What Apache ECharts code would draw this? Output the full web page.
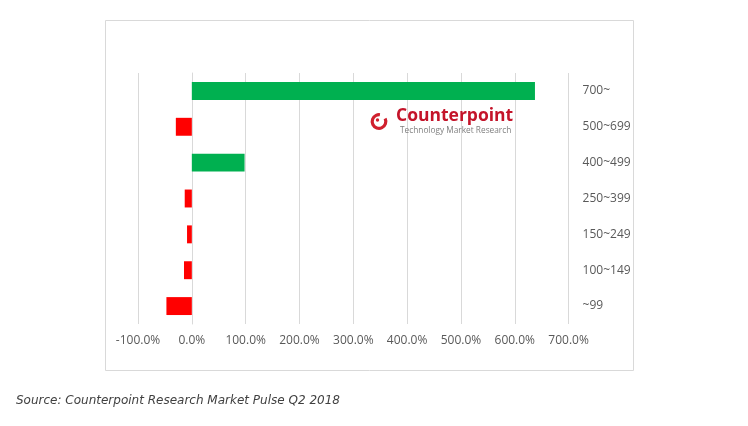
<!DOCTYPE html>
<html>
<head>
<meta charset="utf-8">
<script src="https://cdn.jsdelivr.net/npm/echarts@6/dist/echarts.min.js"></script>
<style>
html,body{margin:0;padding:0;background:#fff;}
#chart{width:748px;height:426px;}
</style>
</head>
<body>
<div id="chart"></div>
<script>
// Data
var categories = ['700~', '500~699', '400~499', '250~399', '150~249', '100~149', '~99'];
var growth = [637.5, -29.7, 98, -13.2, -8.9, -14.5, -47.2];
var xTicks = { min: -100, max: 700, step: 100 };
var sourceNote = 'Source: Counterpoint Research Market Pulse Q2 2018';

var chart = echarts.init(document.getElementById('chart'));
var labelFont = '"Open Sans", "Noto Sans", sans-serif';

chart.setOption({
  animation: false,
  backgroundColor: '#ffffff',
  grid: { left: 138, right: 179.4, top: 73, height: 251, containLabel: false },
  xAxis: {
    type: 'value',
    min: xTicks.min, max: xTicks.max, interval: xTicks.step,
    axisLine: { show: false },
    axisTick: { show: false },
    splitLine: { show: true, lineStyle: { color: '#d9d9d9', width: 1 } },
    axisLabel: {
      color: '#595959', fontSize: 12, fontFamily: labelFont, margin: 11,
      formatter: function (v) { return v.toFixed(1) + '%'; }
    }
  },
  yAxis: {
    type: 'category',
    data: categories,
    position: 'right',
    inverse: true,
    axisLine: { show: true, lineStyle: { color: '#d9d9d9' } },
    axisTick: { show: false },
    splitLine: { show: false },
    axisLabel: { color: '#595959', fontSize: 12, fontFamily: labelFont, margin: 14, align: 'left' }
  },
  series: [{
    type: 'bar',
    data: growth,
    barCategoryGap: '50%',
    itemStyle: {
      color: function (p) { return p.value >= 0 ? '#00B050' : '#FF0000'; }
    }
  }],
  graphic: [
    {
      type: 'rect', silent: true, z: -1,
      shape: { x: 105.5, y: 20.5, width: 528, height: 350 },
      style: { fill: 'none', stroke: '#d9d9d9', lineWidth: 1 }
    },
    {
      type: 'arc', z: 10,
      shape: { cx: 379, cy: 121.5, r: 6.8, startAngle: -0.45, endAngle: 4.85, clockwise: true },
      style: { fill: 'none', stroke: '#d0202e', lineWidth: 3.2 }
    },
    {
      type: 'circle', z: 10,
      shape: { cx: 377.5, cy: 120, r: 1.7 },
      style: { fill: '#d0202e' }
    },
    {
      type: 'text', z: 10, left: 396, top: 107,
      style: { text: 'Counterpoint', fill: '#c4142a', font: 'bold 17.5px "Open Sans", sans-serif' }
    },
    {
      type: 'text', z: 10, left: 400, top: 127,
      style: { text: 'Technology Market Research', fill: '#7f7f7f', font: '8.3px "Open Sans", sans-serif' }
    },
    {
      type: 'text', left: 16, top: 395,
      style: { text: sourceNote, fill: '#404040', font: 'italic 12px "DejaVu Sans", sans-serif' }
    }
  ]
});
</script>
</body>
</html>
